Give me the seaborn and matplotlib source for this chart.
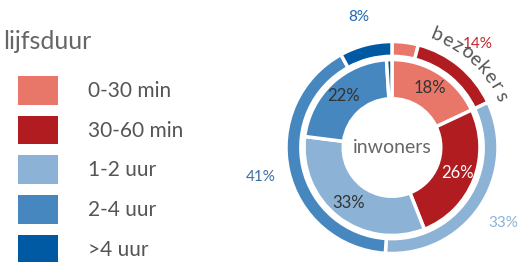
import numpy as np
import matplotlib
matplotlib.use("Agg")
import matplotlib.pyplot as plt
from matplotlib.patches import Patch
import seaborn as sns

# data
categorieen = ["0-30 min", "30-60 min", "1-2 uur", "2-4 uur", ">4 uur"]
bezoekers = [4, 14, 33, 41, 8]
inwoners = [18, 26, 33, 22, 1]
kleuren = ["#E8776A", "#B01C20", "#8CB3D6", "#4587BE", "#0059A3"]
label_kleuren_buiten = ["#E8776A", "#C0272D", "#8CB3D6", "#3F6E9E", "#1F67B0"]
label_kleuren_binnen = ["#333333", "#FFFFFF", "#333333", "#333333", "#333333"]

sns.set_theme(style="white")
plt.rcParams["font.family"] = ["Lato", "DejaVu Sans"]
palet = sns.color_palette(kleuren)

fig = plt.figure(figsize=(5.25, 2.62), dpi=100)
ax = fig.add_axes([(392 - 106) / 525, 8.5 / 262, 212 / 525, 212 / 262])

# buitenring: bezoekers
w_out, t_out, a_out = ax.pie(
    bezoekers, colors=palet, radius=1.0, startangle=90, counterclock=False,
    wedgeprops=dict(width=0.14, edgecolor="white", linewidth=2.5),
    autopct=lambda p: "" if p < 5 else f"{p:.0f}%", pctdistance=1.27,
    textprops=dict(fontsize=11))
for t, c in zip(a_out, label_kleuren_buiten):
    t.set_color(c)

# binnenring: inwoners
w_in, t_in, a_in = ax.pie(
    inwoners, colors=palet, radius=0.83, startangle=90, counterclock=False,
    wedgeprops=dict(width=0.37, edgecolor="white", linewidth=2.5),
    autopct=lambda p: "" if p < 5 else f"{p:.0f}%", pctdistance=0.8,
    textprops=dict(fontsize=12))
for t, c in zip(a_in, label_kleuren_binnen):
    t.set_color(c)

ax.set_xlim(-1, 1)
ax.set_ylim(-1, 1)
ax.set_aspect("equal")
ax.axis("off")

ax.text(0, 0.0, "inwoners", ha="center", va="center", fontsize=14, color="#666666")

# gebogen tekst "bezoekers"
woord = "bezoekers"
hoeken = np.linspace(68, 25, len(woord))
for ch, h in zip(woord, hoeken):
    r = 1.06
    ax.text(r * np.cos(np.radians(h)), r * np.sin(np.radians(h)), ch,
            ha="center", va="bottom", rotation=h - 90, rotation_mode="anchor",
            fontsize=14, color="#555555", clip_on=False)

# legenda
handles = [Patch(facecolor=c, edgecolor="none", label=l) for c, l in zip(palet, categorieen)]
fig.legend(handles=handles, loc="upper left", bbox_to_anchor=(18 / 525, 1 - 76 / 262),
           frameon=False, fontsize=15, handlelength=1.92, handleheight=1.74,
           handletextpad=1.44, labelspacing=0.53, borderpad=0, borderaxespad=0,
           labelcolor="#555555")
fig.text(3 / 525, 1 - 42 / 262, "lijfsduur", ha="left", va="center", fontsize=18, color="#666666")

fig.savefig("out.png", dpi=100)
